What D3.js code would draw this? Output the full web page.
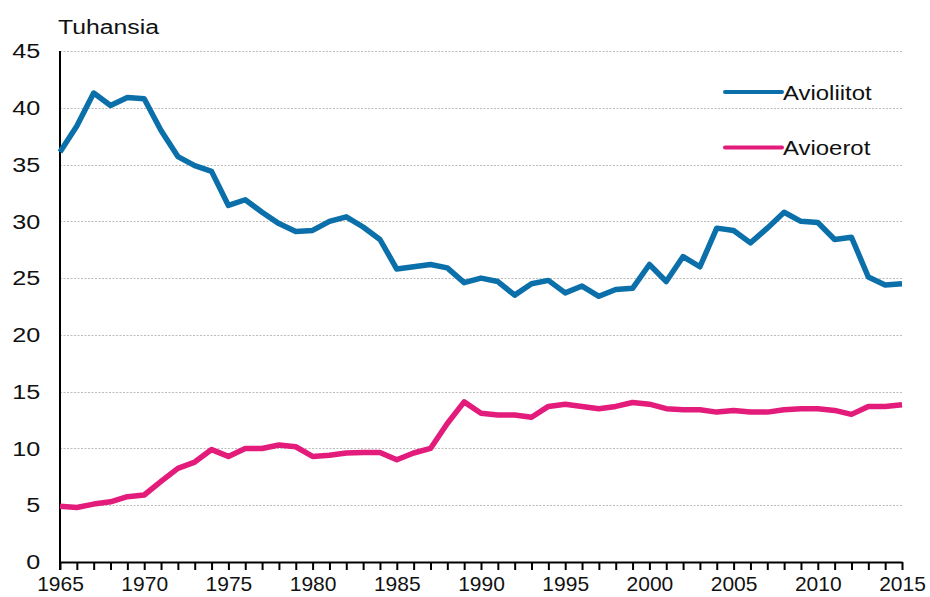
<!DOCTYPE html>
<html>
<head>
<meta charset="utf-8">
<script src="https://cdn.jsdelivr.net/npm/d3@7"></script>
<style>
  body { margin: 0; background: #fff; }
  svg { font-family: "Liberation Sans", Arial, sans-serif; display: block; }
</style>
</head>
<body>
<div id="chart"></div>
<script>
// Data: thousands per year, Finland 1965-2015
var years = d3.range(1965, 2016);
var avioliitot = [
  36.1, 38.4, 41.3, 40.2, 40.9, 40.8, 38.0, 35.7, 34.9, 34.4,
  31.4, 31.9, 30.8, 29.8, 29.1, 29.2, 30.0, 30.4, 29.5, 28.4,
  25.8, 26.0, 26.2, 25.9, 24.6, 25.0, 24.7, 23.5, 24.5, 24.8,
  23.7, 24.3, 23.4, 24.0, 24.1, 26.2, 24.7, 26.9, 26.0, 29.4,
  29.2, 28.1, 29.4, 30.8, 30.0, 29.9, 28.4, 28.6, 25.1, 24.4,
  24.5
];
var avioerot = [
  4.9, 4.8, 5.1, 5.3, 5.75, 5.9, 7.1, 8.25, 8.8, 9.9,
  9.3, 10.0, 10.0, 10.3, 10.15, 9.3, 9.4, 9.6, 9.65, 9.65,
  9.0, 9.6, 10.0, 12.2, 14.1, 13.1, 12.95, 12.95, 12.75, 13.7,
  13.9, 13.7, 13.5, 13.7, 14.05, 13.9, 13.5, 13.4, 13.4, 13.2,
  13.35, 13.2, 13.2, 13.4, 13.5, 13.5, 13.35, 13.0, 13.7, 13.7,
  13.85
];
var seriesNames = ["Avioliitot", "Avioerot"];
var seriesColors = ["#0b6fa9", "#e31b7b"];
var yTicks = [0, 5, 10, 15, 20, 25, 30, 35, 40, 45];

var margin = { top: 51, right: 28, bottom: 35, left: 60 };
var width = 930 - margin.left - margin.right;
var height = 597 - margin.top - margin.bottom;

var svg = d3.select("#chart")
  .append("svg")
    .attr("width", 930)
    .attr("height", 597)
  .append("g")
    .attr("transform", `translate(${margin.left},${margin.top})`);

var x = d3.scaleLinear().domain([1965, 2015]).range([0, width]);
var y = d3.scaleLinear().domain([0, 45]).range([height, 0]);

// gridlines
svg.append("g")
  .selectAll("line")
  .data(yTicks.filter(d => d > 0))
  .join("line")
    .attr("x1", 0)
    .attr("x2", width)
    .attr("y1", d => Math.round(y(d)) + 0.5)
    .attr("y2", d => Math.round(y(d)) + 0.5)
    .attr("stroke", "#bcbcbc")
    .attr("stroke-width", 1.2)
    .attr("stroke-dasharray", "2,1.5");

// y labels
var yAxis = svg.append("g")
  .call(d3.axisLeft(y).tickValues(yTicks).tickSize(0).tickPadding(16.5));
yAxis.select(".domain").remove();
yAxis.selectAll("text")
  .attr("font-size", 21)
  .attr("font-family", "Liberation Sans, Arial, sans-serif")
  .attr("fill", "#111")
  .attr("transform", "scale(1.2,1)");

// x axis
var xAxis = svg.append("g")
  .attr("transform", "translate(0," + height + ")")
  .call(d3.axisBottom(x)
    .tickValues(years)
    .tickSize(8)
    .tickSizeOuter(0)
    .tickPadding(6)
    .tickFormat(d => d % 5 === 0 ? d : ""));
xAxis.select(".domain").attr("stroke", "#000").attr("stroke-width", 2);
xAxis.selectAll(".tick line").attr("stroke", "#000").attr("stroke-width", 2);
xAxis.selectAll("text")
  .attr("font-size", 21)
  .attr("font-family", "Liberation Sans, Arial, sans-serif")
  .attr("fill", "#111");

// vertical axis line
svg.append("line")
  .attr("x1", 0).attr("x2", 0)
  .attr("y1", 0).attr("y2", height + 8)
  .attr("stroke", "#000")
  .attr("stroke-width", 2);

// title
svg.append("text")
  .attr("transform", "translate(-2," + (-17) + ") scale(1.18,1)")
  .attr("font-size", 21)
  .attr("fill", "#111")
  .text("Tuhansia");

// lines
var line = d3.line()
  .x((d, i) => x(years[i]))
  .y(d => y(d));

[avioliitot, avioerot].forEach(function(s, i) {
  svg.append("path")
    .datum(s)
    .attr("fill", "none")
    .attr("stroke", seriesColors[i])
    .attr("stroke-width", 5.5)
    .attr("stroke-linejoin", "round")
    .attr("d", line);
});

// legend
var legend = svg.append("g")
  .selectAll("g")
  .data(seriesNames)
  .join("g")
    .attr("transform", (d, i) => "translate(665," + (41 + i * 55.5) + ")");
legend.append("line")
  .attr("x1", 0).attr("x2", 57)
  .attr("stroke", (d, i) => seriesColors[i])
  .attr("stroke-width", 4)
  .attr("stroke-linecap", "round");
legend.append("text")
  .attr("transform", "translate(58,7.5) scale(1.14,1)")
  .attr("font-size", 21)
  .attr("fill", "#111")
  .text(d => d);
</script>
</body>
</html>
